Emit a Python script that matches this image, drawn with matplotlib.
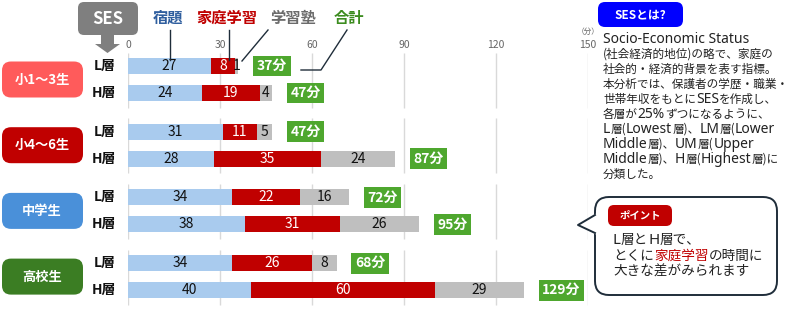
import matplotlib
matplotlib.use('Agg')
import matplotlib.pyplot as plt
from matplotlib.patches import FancyBboxPatch, Polygon

plt.rcParams['font.family'] = ['Noto Sans CJK JP', 'DejaVu Sans']

# data
groups = ['小1～3生', '小4～6生', '中学生', '高校生']
layers = ['L層', 'H層']
homework = [27, 24, 31, 28, 34, 38, 34, 40]
home_study = [8, 19, 11, 35, 22, 31, 26, 60]
juku = [1, 4, 5, 24, 16, 26, 8, 29]
totals = [37, 47, 47, 87, 72, 95, 68, 129]
x_ticks = [0, 30, 60, 90, 120, 150]
series_names = ['宿題', '家庭学習', '学習塾', '合計']

group_colors = ['#FF5B5B', '#C00000', '#4A90D9', '#3B7D23']
c_hw, c_hs, c_jk, c_tot = '#A9CBEE', '#C00000', '#BFBFBF', '#4EA72E'
name_colors = ['#2F5E9E', '#C00000', '#6B6B6B', '#3C8C1F']
line_c = '#1F2D3A'
txt_c = '#222222'

about_lines = [
    'Socio-Economic Status',
    '(社会経済的地位)の略で、家庭の',
    '社会的・経済的背景を表す指標。',
    '本分析では、保護者の学歴・職業・',
    '世帯年収をもとにSESを作成し、',
    '各層が25%ずつになるように、',
    'L層(Lowest層)、LM層(Lower',
    'Middle層)、UM層(Upper',
    'Middle層)、H層(Highest層)に',
    '分類した。',
]
point_lines = [
    [('L層とH層で、', txt_c)],
    [('とくに', txt_c), ('家庭学習', '#C00000'), ('の時間に', txt_c)],
    [('大きな差がみられます', txt_c)],
]

fig = plt.figure(figsize=(8, 3.14), dpi=100)
ax = fig.add_axes([128 / 800, 0, 460 / 800, 1])
ax.set_xlim(0, 150)
ax.set_ylim(314, 0)
ax.axis('off')

ov = fig.add_axes([0, 0, 1, 1])
ov.set_xlim(0, 800)
ov.set_ylim(314, 0)
ov.axis('off')
ov.patch.set_alpha(0)
renderer = fig.canvas.get_renderer()


def is_latin(ch):
    return ch.isascii() and ch not in '()'


def split_runs(s):
    runs = []
    for ch in s:
        if runs and is_latin(runs[-1][0]) == is_latin(ch):
            runs[-1] += ch
        else:
            runs.append(ch)
    return runs


def draw_rich(x, y, segments, latin_size, cjk_size):
    # latin text a bit larger than kanji/kana, like the original font
    for text, color in segments:
        for run in split_runs(text):
            if is_latin(run[0]):
                t = ov.text(x, y, run, fontsize=latin_size, family='Noto Sans', color=color, va='baseline')
            else:
                t = ov.text(x, y, run, fontsize=cjk_size, color=color, va='baseline')
            x = t.get_window_extent(renderer).x1


# row positions (pixel-like y)
centers = [79.5 + 65.7 * g for g in range(len(groups))]
ys = []
for c in centers:
    ys += [c - 13.5, c + 13.5]

for c in centers:
    ax.vlines(x_ticks, c - 27, c + 28, color='#D9D9D9', lw=1, zorder=0)
for x in x_ticks:
    ax.text(x, 45, str(x), ha='center', va='center', fontsize=7.5, color='#666666')
ax.text(150, 32, '（分）', ha='center', va='center', fontsize=5.5, color='#666666')

left2 = [a + b for a, b in zip(homework, home_study)]
ax.barh(ys, homework, height=16, color=c_hw, zorder=2)
ax.barh(ys, home_study, left=homework, height=16, color=c_hs, zorder=2)
ax.barh(ys, juku, left=left2, height=16, color=c_jk, zorder=2)

for i, y in enumerate(ys):
    ax.text(homework[i] / 2, y, str(homework[i]), ha='center', va='center', fontsize=10, color='#111111')
    ax.text(homework[i] + home_study[i] / 2, y, str(home_study[i]), ha='center', va='center', fontsize=10, color='white')
    ax.text(left2[i] + juku[i] / 2, y, str(juku[i]), ha='center', va='center', fontsize=10, color='#111111')
    ax.text(left2[i] + juku[i] + 6, y, f'{totals[i]}分', ha='left', va='center', fontsize=10,
            color='white', fontweight='bold',
            bbox=dict(boxstyle='square,pad=0.25', fc=c_tot, ec='none'))

# group and layer labels
for g, c in enumerate(centers):
    ov.add_patch(FancyBboxPatch((2, c - 18), 81, 36, boxstyle='round,pad=0,rounding_size=9',
                                fc=group_colors[g], ec='none'))
    ov.text(42, c, groups[g], ha='center', va='center', fontsize=9.5, color='white', fontweight='bold')
    for r, lab in enumerate(layers):
        ov.text(116, ys[2 * g + r], lab, ha='right', va='center', fontsize=10, color='#111111', fontweight='bold')

# SES header box with arrow
ov.add_patch(FancyBboxPatch((78, 2), 60, 33, boxstyle='round,pad=0,rounding_size=6', fc='#7F7F7F', ec='none'))
ov.text(108, 19, 'SES', ha='center', va='center', fontsize=12, color='white', fontweight='bold')
ov.add_patch(Polygon([(101, 35), (114, 35), (114, 44), (120, 44), (107.5, 53), (95, 44), (101, 44)],
                     closed=True, fc='#7F7F7F', ec='none'))

# series names with leader lines
name_x = [168, 227, 293, 349]
for k, nm in enumerate(series_names):
    ov.text(name_x[k], 18, nm, ha='center', va='center', fontsize=11, color=name_colors[k], fontweight='bold')
ov.plot([170, 170], [30, 60], color=line_c, lw=1)
ov.plot([229, 229], [30, 60], color=line_c, lw=1)
ov.plot([268, 242], [30, 61], color=line_c, lw=1)
ov.plot([347, 321, 301], [30, 70, 70], color=line_c, lw=1)

# right panel: SESとは?
ov.add_patch(FancyBboxPatch((598, 2), 85, 25, boxstyle='round,pad=0,rounding_size=7', fc='#0000FF', ec='none'))
ov.text(640.5, 14.5, 'SESとは?', ha='center', va='center', fontsize=8.5, color='white', fontweight='bold')
for i, line in enumerate(about_lines):
    draw_rich(603, 43 + 15 * i, [(line, txt_c)], 10, 8.4)

# callout bubble
ov.add_patch(FancyBboxPatch((595, 197), 182, 98, boxstyle='round,pad=0,rounding_size=14',
                            fc='white', ec=line_c, lw=1.4))
ov.add_patch(Polygon([(597, 213), (578, 225), (597, 235)], closed=True, fc='white', ec='none', zorder=3))
ov.plot([595, 578, 595], [215, 225, 233], color=line_c, lw=1.4, zorder=4)
ov.add_patch(FancyBboxPatch((608, 205), 64, 21, boxstyle='round,pad=0,rounding_size=6', fc='#C00000', ec='none'))
ov.text(640, 215.5, 'ポイント', ha='center', va='center', fontsize=7.5, color='white', fontweight='bold')
for i, segs in enumerate(point_lines):
    draw_rich(613, 244 + 16 * i, segs, 10.8, 9.8)

fig.savefig('out.png', dpi=100)
